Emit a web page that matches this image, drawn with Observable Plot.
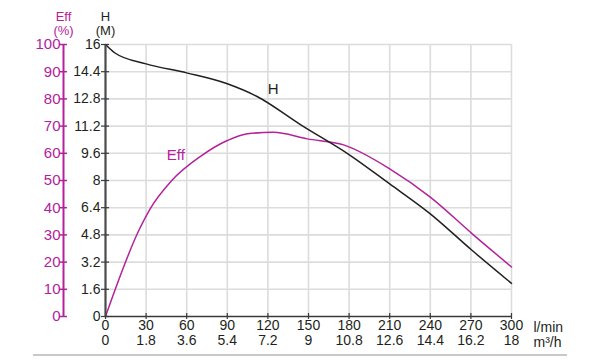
<!DOCTYPE html>
<html><head><meta charset="utf-8">
<script src="https://cdn.jsdelivr.net/npm/d3@7"></script>
<script src="https://cdn.jsdelivr.net/npm/@observablehq/plot@0.6"></script>
<style>
body{margin:0;background:#fff;font-family:"Liberation Sans",Arial,sans-serif}
#wrap{position:relative;width:590px;height:360px}
#bl{position:absolute;left:33px;top:354px;width:534px;height:2px;background:#c8c8c8}
</style></head>
<body><div id="wrap"><div id="bl"></div></div>
<script>
// Tick values
const flowTicks = [0, 30, 60, 90, 120, 150, 180, 210, 240, 270, 300];          // l/min
const m3hLabels = ["0", "1.8", "3.6", "5.4", "7.2", "9", "10.8", "12.6", "14.4", "16.2", "18"]; // m³/h
const headTicks = [0, 1.6, 3.2, 4.8, 6.4, 8, 9.6, 11.2, 12.8, 14.4, 16];       // H (M)
const effTicks = [0, 10, 20, 30, 40, 50, 60, 70, 80, 90, 100];                 // Eff (%)

// H curve (flow l/min, head M)
const hFlow = [0, 7, 30, 60, 90, 112, 144, 181, 210, 240, 271, 300];
const hHead = [16, 15.5, 14.86, 14.33, 13.69, 12.94, 11.29, 9.47, 7.8, 6.04, 3.88, 1.95];

// Eff curve (flow l/min, efficiency %)
const effFlow = [0, 24.6, 33, 49, 70, 90, 105, 124, 149, 176, 210, 240, 271, 300];
const effPct = [0, 31.6, 39.6, 50, 58.8, 64.7, 67.2, 67.7, 65.3, 63.1, 54.3, 43.9, 30.4, 18.2];

const MAG = "#b3229b";
const DARK = "#231f20";
const GRID = "#dcdcdc";
const FS = 14;
const ratio = 16 / 100; // 100 % corresponds to 16 M on the shared vertical scale

const hData = hFlow.map((x, i) => ({flow: x, head: hHead[i]}));
const effData = effFlow.map((x, i) => ({flow: x, eff: effPct[i]}));

const chart = Plot.plot({
  width: 590, height: 360,
  marginLeft: 105, marginRight: 79, marginTop: 44, marginBottom: 44,
  style: {fontFamily: "'Liberation Sans', Arial, sans-serif", fontSize: "14px", background: "transparent", color: DARK},
  x: {domain: [0, 300], label: null},
  y: {domain: [0, 16], label: null},
  marks: [
    // grid
    Plot.gridX(flowTicks.filter(d => d > 0), {stroke: GRID, strokeOpacity: 1, strokeWidth: 1.6}),
    Plot.gridY(headTicks.filter(d => d > 0), {stroke: GRID, strokeOpacity: 1, strokeWidth: 1.6}),
    // curves
    Plot.line(effData, {x: "flow", y: d => d.eff * ratio, stroke: MAG, strokeWidth: 1.5, curve: "monotone-x"}),
    Plot.line(hData, {x: "flow", y: "head", stroke: DARK, strokeWidth: 1.5, curve: "monotone-x"}),
    // curve labels, anchored to a data point
    Plot.text([hData[5]], {x: "flow", y: "head", text: () => "H", dx: 16, dy: -7, fill: DARK, fontSize: 15}),
    Plot.text([effData[3]], {x: "flow", y: d => d.eff * ratio, text: () => "Eff", dx: 4, dy: -25, fill: MAG, fontSize: 15}),
    // x axis
    Plot.ruleY([0], {stroke: "#3a3a3a", strokeWidth: 1.6}),
    Plot.axisX(flowTicks, {anchor: "bottom", tickSize: 6, dy: -3, tickFormat: () => "", stroke: "#3a3a3a", strokeWidth: 1.2}),
    Plot.axisX(flowTicks, {anchor: "bottom", tickSize: 0, tickPadding: 4, tickFormat: d => String(d), fill: DARK, fontSize: FS}),
    Plot.axisX(flowTicks, {anchor: "bottom", tickSize: 0, tickPadding: 19, tickFormat: (d) => m3hLabels[flowTicks.indexOf(d)], fill: DARK, fontSize: FS}),
    Plot.text(["l/min"], {x: 300, y: 0, text: d => d, dx: 22, dy: 11, textAnchor: "start", fill: DARK, fontSize: FS}),
    Plot.text(["m³/h"], {x: 300, y: 0, text: d => d, dx: 22, dy: 26, textAnchor: "start", fill: DARK, fontSize: FS}),
    // H axis
    Plot.ruleX([0], {y1: 0, y2: 16, stroke: "#4a4a4a", strokeWidth: 2.2}),
    Plot.axisY(headTicks, {anchor: "left", tickSize: 8, dx: 4, tickFormat: () => "", stroke: "#3a3a3a", strokeWidth: 1.2}),
    Plot.axisY(headTicks, {anchor: "left", tickSize: 0, tickPadding: 5, tickFormat: d => String(d), fill: DARK, fontSize: FS}),
    Plot.text(["H"], {x: 0, y: 16, text: d => d, dy: -27.5, fill: DARK, fontSize: 13}),
    Plot.text(["(M)"], {x: 0, y: 16, text: d => d, dy: -14, fill: DARK, fontSize: 13}),
    // Eff axis
    Plot.ruleX([0], {y1: 0, y2: 16, dx: -42, stroke: MAG, strokeWidth: 2}),
    Plot.axisY(effTicks.map(d => d * ratio), {anchor: "left", tickSize: 8, dx: -38, tickFormat: () => "", stroke: MAG, strokeWidth: 1.5}),
    Plot.axisY(effTicks.map(d => d * ratio), {anchor: "left", tickSize: 0, tickPadding: 3, dx: -42, tickFormat: d => String(Math.round(d / ratio)), fill: MAG, fontSize: 15}),
    Plot.text(["Eff"], {x: 0, y: 16, text: d => d, dx: -42, dy: -27.5, fill: MAG, fontSize: 13}),
    Plot.text(["(%)"], {x: 0, y: 16, text: d => d, dx: -42, dy: -14, fill: MAG, fontSize: 13})
  ]
});
document.getElementById("wrap").prepend(chart);
</script>
</body></html>
